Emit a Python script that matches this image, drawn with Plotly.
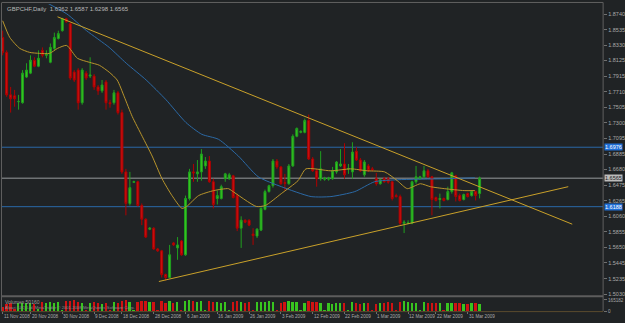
import plotly.graph_objects as go

# ---------------- data ----------------
opens = [1.8430, 1.8233, 1.7670, 1.7657, 1.7579, 1.7566, 1.7906, 1.7958, 1.8129, 1.8050,
         1.8260, 1.8194, 1.8102, 1.8286, 1.8417, 1.8521, 1.8678, 1.8613, 1.7972, 1.7998,
         1.7566, 1.7958, 1.7919, 1.7919, 1.7775, 1.7723, 1.7841, 1.7566, 1.7566, 1.7697,
         1.7435, 1.6649, 1.6231, 1.6512, 1.6518, 1.6204, 1.6021, 1.5890, 1.5903, 1.5628,
         1.5602, 1.5288, 1.5249, 1.5707, 1.5641, 1.5733, 1.5550, 1.6296, 1.6649, 1.6623,
         1.6649, 1.6728, 1.6793, 1.6518, 1.6296, 1.6296, 1.6558, 1.6558, 1.6597, 1.6335,
         1.5903, 1.6008, 1.6008, 1.5825, 1.5798, 1.5877, 1.6152, 1.6388, 1.6466, 1.6793,
         1.6715, 1.6505, 1.6492, 1.6728, 1.7121, 1.7173, 1.7173, 1.7330, 1.6820, 1.6663,
         1.6558, 1.6551, 1.6553, 1.6558, 1.6649, 1.6728, 1.6754, 1.6689, 1.6649, 1.6924,
         1.6807, 1.6610, 1.6728, 1.6689, 1.6558, 1.6492, 1.6558, 1.6558, 1.6518, 1.6335,
         1.6322, 1.5969, 1.5965, 1.5969, 1.6518, 1.6558, 1.6584, 1.6663, 1.6584, 1.6309,
         1.6283, 1.6296, 1.6283, 1.6388, 1.6597, 1.6335, 1.6283, 1.6361, 1.6335, 1.6388,
         1.6362]
highs = [1.8521, 1.8260, 1.7775, 1.7736, 1.7670, 1.7998, 1.8089, 1.8194, 1.8168, 1.8260,
         1.8299, 1.8260, 1.8351, 1.8495, 1.8521, 1.8691, 1.8691, 1.8626, 1.7998, 1.8024,
         1.8024, 1.7985, 1.8168, 1.7945, 1.7801, 1.7867, 1.7867, 1.7605, 1.7736, 1.7723,
         1.7474, 1.6689, 1.6649, 1.6532, 1.6532, 1.6231, 1.6034, 1.5916, 1.5916, 1.5641,
         1.5615, 1.5301, 1.5681, 1.5720, 1.5785, 1.5746, 1.6335, 1.6689, 1.6754, 1.6806,
         1.6951, 1.6846, 1.6859, 1.6558, 1.6401, 1.6479, 1.6636, 1.6636, 1.6610, 1.6361,
         1.6060, 1.6021, 1.6021, 1.5903, 1.5903, 1.6178, 1.6414, 1.6479, 1.6820, 1.6820,
         1.6728, 1.6623, 1.6754, 1.7147, 1.7238, 1.7199, 1.7356, 1.7409, 1.6846, 1.6689,
         1.6924, 1.6584, 1.6584, 1.6715, 1.6793, 1.6951, 1.7029, 1.6754, 1.7042, 1.6977,
         1.6833, 1.6807, 1.6754, 1.6715, 1.6636, 1.6558, 1.6584, 1.6584, 1.6532, 1.6361,
         1.6348, 1.6008, 1.6008, 1.6532, 1.6728, 1.6597, 1.6728, 1.6689, 1.6597, 1.6322,
         1.6361, 1.6309, 1.6453, 1.6649, 1.6610, 1.6361, 1.6361, 1.6375, 1.6401, 1.6401,
         1.6587]
lows = [1.8194, 1.7644, 1.7435, 1.7513, 1.7474, 1.7553, 1.7893, 1.7945, 1.8037, 1.8037,
        1.8168, 1.8155, 1.8089, 1.8260, 1.8404, 1.8508, 1.8626, 1.7867, 1.7841, 1.7474,
        1.7540, 1.7867, 1.7893, 1.7736, 1.7670, 1.7697, 1.7474, 1.7500, 1.7540, 1.7409,
        1.6623, 1.6073, 1.6204, 1.6505, 1.6191, 1.5943, 1.5772, 1.5877, 1.5615, 1.5589,
        1.5249, 1.5210, 1.5236, 1.5668, 1.5484, 1.5537, 1.5537, 1.6270, 1.6518, 1.6518,
        1.6532, 1.6689, 1.6505, 1.6165, 1.6217, 1.6283, 1.6518, 1.6545, 1.6296, 1.5864,
        1.5641, 1.5969, 1.5930, 1.5681, 1.5772, 1.5864, 1.6139, 1.6375, 1.6440, 1.6689,
        1.6479, 1.6401, 1.6479, 1.6715, 1.7108, 1.7160, 1.7160, 1.6807, 1.6649, 1.6453,
        1.6532, 1.6532, 1.6532, 1.6545, 1.6623, 1.6715, 1.6558, 1.6623, 1.6558, 1.6793,
        1.6649, 1.6584, 1.6649, 1.6663, 1.6466, 1.6479, 1.6505, 1.6492, 1.6270, 1.6309,
        1.5943, 1.5838, 1.5956, 1.5956, 1.6492, 1.6545, 1.6558, 1.6571, 1.6073, 1.6257,
        1.6165, 1.6257, 1.6270, 1.6361, 1.6257, 1.6257, 1.6270, 1.6309, 1.6322, 1.6270,
        1.6298]
closes = [1.8233, 1.7670, 1.7618, 1.7618, 1.7583, 1.7958, 1.7998, 1.8129, 1.8050, 1.8155,
          1.8194, 1.8207, 1.8299, 1.8430, 1.8482, 1.8678, 1.8639, 1.7893, 1.7867, 1.7566,
          1.7998, 1.7893, 1.7932, 1.7775, 1.7723, 1.7801, 1.7566, 1.7553, 1.7697, 1.7435,
          1.6649, 1.6231, 1.6440, 1.6518, 1.6204, 1.6021, 1.5785, 1.5903, 1.5628, 1.5602,
          1.5288, 1.5249, 1.5550, 1.5681, 1.5681, 1.5550, 1.6296, 1.6649, 1.6636, 1.6649,
          1.6885, 1.6793, 1.6518, 1.6217, 1.6335, 1.6453, 1.6623, 1.6610, 1.6309, 1.5903,
          1.6008, 1.5982, 1.5943, 1.5805, 1.5890, 1.6165, 1.6388, 1.6466, 1.6793, 1.6715,
          1.6492, 1.6499, 1.6728, 1.7121, 1.7225, 1.7186, 1.7330, 1.6820, 1.6663, 1.6558,
          1.6689, 1.6564, 1.6566, 1.6663, 1.6780, 1.6754, 1.6610, 1.6695, 1.6911, 1.6807,
          1.6663, 1.6780, 1.6663, 1.6676, 1.6492, 1.6545, 1.6518, 1.6512, 1.6296, 1.6322,
          1.5969, 1.5982, 1.5972, 1.6518, 1.6584, 1.6584, 1.6663, 1.6584, 1.6283, 1.6270,
          1.6296, 1.6270, 1.6388, 1.6636, 1.6322, 1.6270, 1.6348, 1.6322, 1.6388, 1.6335,
          1.6565]
volumes = [60000, 112000, 125000, 30000, 118000, 122000, 128000, 115000, 102000, 25000,
           132000, 120000, 140000, 125000, 135000, 20000, 150000, 145000, 160000, 138000,
           128000, 22000, 120000, 130000, 118000, 110000, 126000, 18000, 134000, 128000,
           155000, 165182, 140000, 15000, 138000, 145000, 150000, 132000, 142000, 20000,
           148000, 125000, 152000, 128000, 140000, 16000, 150000, 160000, 145000, 135000,
           148000, 14000, 150000, 142000, 135000, 128000, 140000, 20000, 130000, 150000,
           142000, 125000, 138000, 12000, 132000, 140000, 130000, 145000, 138000, 15000,
           128000, 135000, 150000, 142000, 130000, 18000, 125000, 155000, 140000, 130000,
           120000, 12000, 118000, 110000, 125000, 115000, 128000, 14000, 132000, 120000,
           110000, 118000, 125000, 10000, 112000, 120000, 118000, 135000, 128000, 16000,
           140000, 145000, 138000, 120000, 125000, 12000, 130000, 120000, 118000, 122000,
           128000, 15000, 125000, 118000, 120000, 128000, 100000, 110000, 115000, 120000,
           105000]
bars = list(range(len(opens)))

# moving averages (bar index, price)
ma_fast_x = [0, 1.8, 4.3, 6.8, 9.3, 11.8, 13.8, 16.1, 18.8, 21.8, 24.3, 26.8, 28.8, 30.6, 32.6,
             35.1, 37.6, 40.1, 42.6, 45.1, 46.3, 49.3, 53.1, 56.8, 57.6, 63.8, 66.1, 70.1, 74.3,
             76.3, 82.6, 87.6, 91.8, 96.1, 99.3, 101.8, 105.1, 107.6, 111.1, 116.1, 118.8]
ma_fast_y = [1.8652, 1.8430, 1.8286, 1.8233, 1.8220, 1.8220, 1.8286, 1.8325, 1.8155, 1.8102,
             1.8063, 1.7971, 1.7867, 1.7644, 1.7382, 1.7121, 1.6859, 1.6558, 1.6335, 1.6165,
             1.6191, 1.6335, 1.6401, 1.6427, 1.6401, 1.6191, 1.6204, 1.6361, 1.6532, 1.6689,
             1.6663, 1.6689, 1.6663, 1.6649, 1.6532, 1.6427, 1.6492, 1.6453, 1.6427, 1.6401,
             1.6401]
ma_slow_x = [8.8, 16.1, 21.1, 26.8, 31.1, 36.1, 41.1, 46.1, 50.1, 54.3, 59.3, 64.3, 70.1,
             77.6, 82.6, 88.6, 93.6, 99.3, 111.1, 118.8]
ma_slow_y = [1.8953, 1.8744, 1.8521, 1.8299, 1.8089, 1.7867, 1.7605, 1.7304, 1.7147, 1.7081,
             1.6859, 1.6584, 1.6453, 1.6322, 1.6322, 1.6388, 1.6519, 1.6545, 1.6558, 1.6571]

# trend lines (bar index, price)
res_x = [13.8, 143.3]
res_y = [1.8705, 1.5956]
sup_x = [39.3, 142.3]
sup_y = [1.5196, 1.6453]

# horizontal levels
blue_levels = [1.6976, 1.6188]
bid_level = 1.6565

# axis labels
price_ticks = [1.8740, 1.8535, 1.8330, 1.8125, 1.7915, 1.7710, 1.7505, 1.7300, 1.7095,
               1.6885, 1.6680, 1.6475, 1.6265, 1.6060, 1.5855, 1.5650, 1.5445, 1.5235, 1.5030]
vol_ticks = [0, 165182]
date_bars = [0, 7, 15, 23, 30, 38, 46, 54, 62, 70, 78, 86, 94, 102, 109, 117]
date_labels = ["11 Nov 2008", "20 Nov 2008", "30 Nov 2008", "9 Dec 2008", "18 Dec 2008",
               "28 Dec 2008", "6 Jan 2009", "16 Jan 2009", "26 Jan 2009", "3 Feb 2009",
               "12 Feb 2009", "22 Feb 2009", "1 Mar 2009", "12 Mar 2009", "22 Mar 2009",
               "31 Mar 2009"]
title_text = "GBPCHF,Daily  1.6362 1.6587 1.6298 1.6565"
vol_text = "Volumes 50160"
copy_text = "Alpari (UK) Ltd. MetaTrader © 2001-2008 MetaQuotes Software Corp."

# ---------------- styling ----------------
W, H = 625, 323
BG = "#202325"
TXT = "#a9a9a9"
FRAME = "#606060"
FONT = "Liberation Sans"
GREEN_F, GREEN_L = "#38c51f", "#1f9f1f"
RED_F, RED_L = "#d01212", "#b00000"

def px(x):
    return x / W

def py(y):
    return 1 - y / H

fig = go.Figure()

fig.add_trace(go.Scatter(x=ma_slow_x, y=ma_slow_y, mode="lines",
                         line=dict(color="#2c6aa6", width=1, shape="spline", smoothing=0.6),
                         hoverinfo="skip", showlegend=False))
fig.add_trace(go.Scatter(x=ma_fast_x, y=ma_fast_y, mode="lines",
                         line=dict(color="#b8952c", width=1, shape="spline", smoothing=0.6),
                         hoverinfo="skip", showlegend=False))
fig.add_trace(go.Scatter(x=res_x, y=res_y, mode="lines",
                         line=dict(color="#c9a12a", width=1), hoverinfo="skip", showlegend=False))
fig.add_trace(go.Scatter(x=sup_x, y=sup_y, mode="lines",
                         line=dict(color="#c9a12a", width=1), hoverinfo="skip", showlegend=False))

fig.add_trace(go.Candlestick(
    x=bars, open=opens, high=highs, low=lows, close=closes,
    increasing=dict(line=dict(color=GREEN_L, width=1), fillcolor=GREEN_F),
    decreasing=dict(line=dict(color=RED_L, width=1), fillcolor=RED_F),
    whiskerwidth=0, hoverinfo="skip", showlegend=False, xaxis="x", yaxis="y"))

vol_colors = [GREEN_F if c >= o else RED_F for o, c in zip(opens, closes)]
fig.add_trace(go.Bar(x=bars, y=volumes, marker=dict(color=vol_colors, line=dict(width=0)),
                     width=0.45, xaxis="x", yaxis="y2", hoverinfo="skip", showlegend=False))

shapes = []
for lv in blue_levels:
    shapes.append(dict(type="line", xref="paper", yref="y", x0=px(2), x1=px(607), y0=lv, y1=lv,
                       line=dict(color="#2a68a8", width=1), layer="below"))
shapes.append(dict(type="line", xref="paper", yref="y", x0=px(2), x1=px(607), y0=bid_level,
                   y1=bid_level, line=dict(color="#6f7375", width=1.5), layer="below"))
shapes += [
    dict(type="line", xref="paper", yref="paper", x0=px(1.5), x1=px(1.5), y0=py(2), y1=py(314),
         line=dict(color=FRAME, width=1)),
    dict(type="line", xref="paper", yref="paper", x0=px(1.5), x1=px(607), y0=py(1.5), y1=py(1.5),
         line=dict(color=FRAME, width=1)),
    dict(type="line", xref="paper", yref="paper", x0=px(607), x1=px(607), y0=py(1.5), y1=py(314),
         line=dict(color=FRAME, width=1)),
    dict(type="line", xref="paper", yref="paper", x0=px(1.5), x1=px(607), y0=py(299), y1=py(299),
         line=dict(color="#5d5d5d", width=2)),
    dict(type="line", xref="paper", yref="paper", x0=px(1.5), x1=px(607), y0=py(314.5), y1=py(314.5),
         line=dict(color="#5a4a2e", width=1)),
]

annotations = []
annotations.append(dict(xref="paper", yref="paper", x=px(5), y=py(8), text=title_text,
                        showarrow=False, xanchor="left", yanchor="middle",
                        font=dict(family=FONT, size=6, color="#b8b8b8")))
annotations.append(dict(xref="paper", yref="paper", x=px(3), y=py(304.5), text=vol_text,
                        showarrow=False, xanchor="left", yanchor="middle",
                        font=dict(family=FONT, size=5, color="#9a9a9a")))
annotations.append(dict(xref="paper", yref="paper", x=px(3), y=py(310.5), text=copy_text,
                        showarrow=False, xanchor="left", yanchor="middle",
                        font=dict(family=FONT, size=4.2, color="#8a8a8a")))
for b, lab in zip(date_bars, date_labels):
    annotations.append(dict(xref="x", yref="paper", x=b, y=py(319), text=lab, showarrow=False,
                            xanchor="left", yanchor="middle", xshift=-1,
                            font=dict(family=FONT, size=4.6, color=TXT)))
for lv in blue_levels:
    annotations.append(dict(xref="paper", yref="y", x=px(607.5), y=lv, text=f"{lv:.4f}",
                            showarrow=False, xanchor="left", yanchor="middle",
                            bgcolor="#1f6fd6", borderpad=0,
                            font=dict(family=FONT, size=5.5, color="#ffffff")))
annotations.append(dict(xref="paper", yref="y", x=px(607.5), y=bid_level, text=f"{bid_level:.4f}",
                        showarrow=False, xanchor="left", yanchor="middle",
                        bgcolor="#bcbcbc", borderpad=0,
                        font=dict(family=FONT, size=5.5, color="#1a1a1a")))

fig.update_layout(
    width=W, height=H, margin=dict(l=0, r=0, t=0, b=0),
    paper_bgcolor=BG, plot_bgcolor=BG, showlegend=False, bargap=0,
    font=dict(family=FONT, size=6, color=TXT),
    xaxis=dict(domain=[px(2), px(607)], range=[-0.175, 151.07], anchor="y2",
               showgrid=False, zeroline=False, showline=False,
               tickvals=date_bars, ticktext=[""] * len(date_bars), ticks="outside",
               ticklen=2, tickcolor="#707070", rangeslider=dict(visible=False), fixedrange=True),
    yaxis=dict(domain=[py(298), py(3)], range=[1.5013, 1.8875], side="right", anchor="x",
               tickvals=price_ticks, ticktext=[f"{v:.4f}" for v in price_ticks],
               ticks="outside", ticklen=3, tickcolor="#707070",
               tickfont=dict(family=FONT, size=5.5, color=TXT),
               showgrid=False, zeroline=False, showline=False, fixedrange=True),
    yaxis2=dict(domain=[py(314), py(301.7)], range=[0, 180000], side="right", anchor="x",
                tickvals=vol_ticks, ticktext=["0", "165182"], ticks="outside", ticklen=3,
                tickcolor="#707070", tickfont=dict(family=FONT, size=4.6, color=TXT),
                showgrid=False, zeroline=False, showline=False, fixedrange=True),
    shapes=shapes, annotations=annotations,
)

fig.write_html("out.html")
